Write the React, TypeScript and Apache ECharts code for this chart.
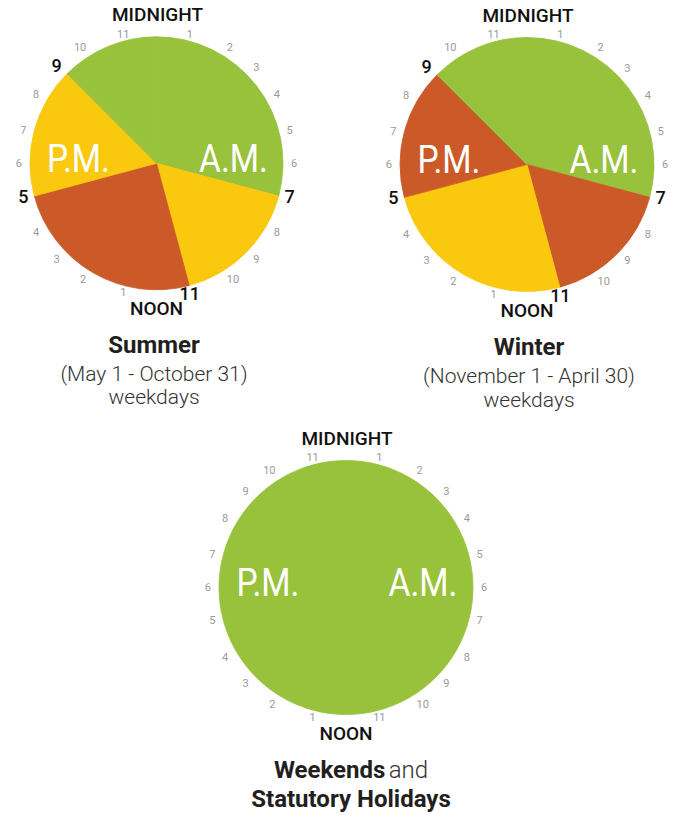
import React, { useEffect, useRef } from "react";
import * as echarts from "echarts";

// 24-hour clock labels, clockwise from the top
const hourLabels = [
  "MIDNIGHT", "1", "2", "3", "4", "5", "6", "7", "8", "9", "10", "11",
  "NOON", "1", "2", "3", "4", "5", "6", "7", "8", "9", "10", "11",
];

// Rate periods: off-peak, mid-peak, on-peak
const rateColors: Record<string, string> = {
  off: "#98C13C",
  mid: "#F9C80F",
  on: "#CC5A28",
};

// Hours per segment, clockwise from midnight
const summerHours = [7, 4, 6, 4, 3];
const summerRates = ["off", "mid", "on", "mid", "off"];
const winterHours = [7, 4, 6, 4, 3];
const winterRates = ["off", "on", "mid", "on", "off"];
const weekendHours = [24];
const weekendRates = ["off"];

const summerTitle = ["Summer", "(May 1 - October 31)", "weekdays"];
const winterTitle = ["Winter", "(November 1 - April 30)", "weekdays"];
const weekendTitle = ["Weekends", "and", "Statutory Holidays"];

const clocks = [
  { cx: 156.5, cy: 163.3, r: 126.5, hours: summerHours, rates: summerRates },
  { cx: 527, cy: 164.5, r: 127, hours: winterHours, rates: winterRates },
  { cx: 346, cy: 587.5, r: 127, hours: weekendHours, rates: weekendRates },
];

const FONT = "Roboto, 'Noto Sans', sans-serif";

function boundaries(hours: number[]): number[] {
  const out: number[] = [];
  let acc = 0;
  hours.forEach((h) => {
    acc += h;
    if (acc > 0 && acc < 24) out.push(acc);
  });
  return out;
}

function buildOption() {
  const polar = clocks.map((c) => ({ center: [c.cx, c.cy], radius: c.r }));
  const angleAxis = clocks.map((c, i) => {
    const b = boundaries(c.hours);
    return {
      polarIndex: i,
      type: "category",
      data: hourLabels,
      boundaryGap: false,
      startAngle: 90,
      clockwise: true,
      axisLine: { show: false },
      axisTick: { show: false },
      splitLine: { show: false },
      axisLabel: {
        margin: 2,
        fontFamily: FONT,
        formatter: (v: string, idx: number) => {
          // midnight and noon are drawn as larger captions below
          if (idx === 0 || idx === 12) return "";
          if (b.indexOf(idx) >= 0) return "{b|" + v + "}";
          return "{s|" + v + "}";
        },
        rich: {
          s: {
            fontFamily: FONT,
            fontSize: 11,
            color: "#9a9a9a",
            lineHeight: 10,
            padding: [0, 6, 0, 6],
          },
          b: {
            fontFamily: FONT,
            fontSize: 18,
            fontWeight: 500,
            color: "#111111",
            lineHeight: 13,
            padding: [0, 4, 0, 4],
          },
        },
      },
    };
  });
  const radiusAxis = clocks.map((c, i) => ({ polarIndex: i, show: false }));
  const series = clocks.map((c) => ({
    type: "pie",
    silent: true,
    z: 1,
    center: [c.cx, c.cy],
    radius: c.r,
    startAngle: 90,
    clockwise: true,
    avoidLabelOverlap: false,
    label: { show: false },
    labelLine: { show: false },
    data: c.hours.map((h, k) => ({
      value: h,
      name: c.rates[k] + k,
      itemStyle: {
        color: rateColors[c.rates[k]],
        borderColor: rateColors[c.rates[k]],
        borderWidth: 0.8,
      },
    })),
  }));

  const captions: any[] = [];
  clocks.forEach((c) => {
    const inner = (text: string, dx: number) => ({
      type: "text",
      z: 100,
      x: c.cx + dx,
      y: c.cy - 5,
      scaleX: 0.86,
      style: {
        text,
        fill: "#ffffff",
        font: "400 39px " + FONT,
        align: "center",
        verticalAlign: "middle",
      },
    });
    captions.push(inner("P.M.", -78));
    captions.push(inner("A.M.", 77));
    captions.push({
      type: "text",
      z: 100,
      x: c.cx + 1,
      y: c.cy - c.r - 22,
      style: {
        text: hourLabels[0],
        fill: "#111111",
        font: "500 19px " + FONT,
        lineHeight: 16,
        align: "center",
        verticalAlign: "middle",
      },
    });
    captions.push({
      type: "text",
      z: 100,
      x: c.cx,
      y: c.cy + c.r + 18.5,
      style: {
        text: hourLabels[12],
        fill: "#111111",
        font: "500 19px " + FONT,
        lineHeight: 15,
        align: "center",
        verticalAlign: "middle",
      },
    });
  });

  const boldStyle = (size: number) => "700 " + size + "px " + FONT;
  const lightStyle = (size: number) => "300 " + size + "px " + FONT;
  const titleTexts: any[] = [
    { x: 154, y: 345, text: summerTitle[0], font: boldStyle(24), fill: "#231f20" },
    { x: 154, y: 374, text: summerTitle[1], font: lightStyle(21), fill: "#333333" },
    { x: 154, y: 397, text: summerTitle[2], font: lightStyle(21), fill: "#333333" },
    { x: 529, y: 347, text: winterTitle[0], font: boldStyle(24), fill: "#231f20" },
    { x: 529, y: 376, text: winterTitle[1], font: lightStyle(21), fill: "#333333" },
    { x: 529, y: 400, text: winterTitle[2], font: lightStyle(21), fill: "#333333" },
  ].map((t) => ({
    type: "text",
    z: 100,
    x: t.x,
    y: t.y,
    style: {
      text: t.text,
      font: t.font,
      fill: t.fill,
      align: "center",
      verticalAlign: "middle",
    },
  }));
  titleTexts.push({
    type: "text",
    z: 100,
    x: 351,
    y: 770,
    style: {
      text: "{b|" + weekendTitle[0] + "} {r|" + weekendTitle[1] + "}",
      align: "center",
      verticalAlign: "middle",
      rich: {
        b: { font: boldStyle(24), fill: "#231f20" },
        r: { font: lightStyle(24), fill: "#333333" },
      },
    },
  });
  titleTexts.push({
    type: "text",
    z: 100,
    x: 351,
    y: 799,
    style: {
      text: weekendTitle[2],
      font: boldStyle(24),
      fill: "#231f20",
      align: "center",
      verticalAlign: "middle",
    },
  });

  return {
    animation: false,
    backgroundColor: "#ffffff",
    polar,
    angleAxis,
    radiusAxis,
    series,
    graphic: { elements: [...captions, ...titleTexts] },
  };
}

export default function App() {
  const ref = useRef<HTMLDivElement>(null);
  useEffect(() => {
    if (!ref.current) return;
    const chart = echarts.init(ref.current, undefined, { renderer: "svg" });
    chart.setOption(buildOption() as any);
    return () => chart.dispose();
  }, []);
  return (
    <div
      ref={ref}
      style={{ position: "fixed", left: 0, top: 0, width: 675, height: 815, background: "#fff" }}
    />
  );
}
